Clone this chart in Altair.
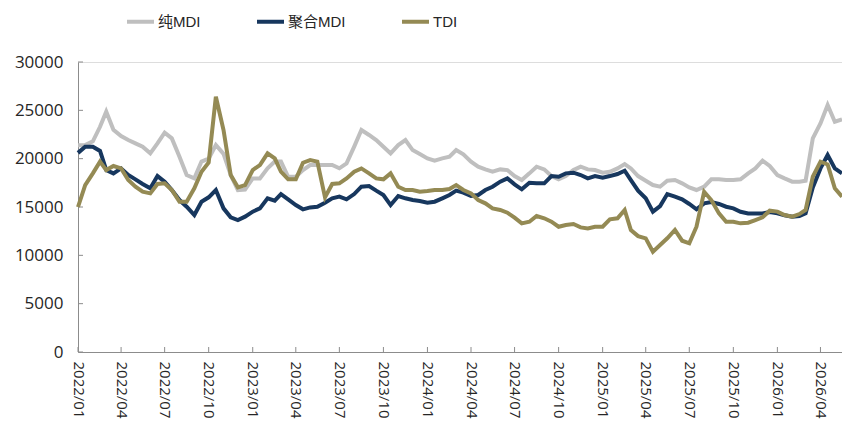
import altair as alt
import pandas as pd

# semi-monthly sample dates (1st and 16th of each month), 2022-01-01 .. 2026-05-16
dates = []
for k in range(106):
    mo = k // 2
    y = 2022 + mo // 12
    m = mo % 12 + 1
    d = 1 if k % 2 == 0 else 16
    dates.append(f"{y}-{m:02d}-{d:02d}")

pure_mdi = [
    21400, 21400, 21800, 23300, 24860, 23000, 22340, 21930, 21580, 21240,
    20550, 21580, 22690, 22100, 20200, 18300, 17960, 19700, 20000, 21410,
    20500, 18300, 16750, 16800, 17960, 17960, 19000, 19700, 19700, 18130,
    18130, 18820, 19340, 19340, 19340, 19340, 19000, 19510, 21240, 22960,
    22450, 21930, 21240, 20550, 21410, 21930, 20890, 20480, 20030, 19790,
    20030, 20200, 20890, 20450, 19690, 19170, 18890, 18650, 18890, 18820,
    18200, 17790, 18480, 19170, 18890, 18200, 17860, 18200, 18820, 19170,
    18890, 18820, 18550, 18650, 18990, 19440, 18990, 18200, 17720, 17270,
    17100, 17720, 17790, 17450, 17030, 16760, 17100, 17860, 17860, 17790,
    17790, 17860, 18480, 18990, 19790, 19240, 18310, 17960, 17620, 17620,
    17720, 22100, 23650, 25550, 23820, 24070,
]

polymeric_mdi = [
    20600, 21240, 21240, 20800, 18820, 18480, 18990, 18310, 17860, 17380,
    16930, 18200, 17620, 16760, 15720, 15030, 14170, 15550, 16000, 16760,
    14860, 13930, 13650, 14000, 14520, 14860, 15900, 15650, 16340, 15790,
    15200, 14760, 14960, 15030, 15450, 15900, 16070, 15790, 16340, 17100,
    17170, 16690, 16240, 15200, 16140, 15900, 15720, 15620, 15450, 15550,
    15900, 16240, 16690, 16480, 16140, 16240, 16760, 17100, 17620, 17960,
    17340, 16830, 17510, 17450, 17450, 18200, 18130, 18480, 18550, 18310,
    17960, 18200, 18030, 18200, 18410, 18750, 17790, 16690, 15900, 14520,
    15100, 16340, 16070, 15790, 15310, 14760, 15380, 15520, 15310, 15030,
    14860, 14510, 14340, 14340, 14340, 14480, 14340, 14140, 14000, 14070,
    14340, 17030, 18990, 20380, 18990, 18480,
]

tdi = [
    15000, 17270, 18480, 19690, 18820, 19240, 18990, 17790, 17100, 16580,
    16410, 17380, 17450, 16760, 15550, 15550, 16930, 18650, 19600, 26410,
    22960, 18310, 17030, 17270, 18820, 19340, 20550, 20030, 18650, 17860,
    17860, 19580, 19860, 19690, 16000, 17380, 17450, 17960, 18650, 18990,
    18480, 17960, 17860, 18480, 17100, 16760, 16760, 16580, 16650, 16760,
    16760, 16860, 17270, 16760, 16410, 15720, 15380, 14860, 14690, 14410,
    13890, 13310, 13480, 14070, 13830, 13480, 12960, 13140, 13240, 12890,
    12790, 12960, 12960, 13720, 13830, 14690, 12620, 11990, 11760, 10380,
    11070, 11760, 12620, 11510, 11240, 12960, 16580, 15720, 14340, 13480,
    13480, 13310, 13380, 13650, 13930, 14620, 14520, 14170, 14000, 14270,
    14690, 18130, 19690, 19400, 16930, 16070,
]

series_names = ["纯MDI", "聚合MDI", "TDI"]
series_colors = ["#BFBFBF", "#17375E", "#948A54"]

x_tick_dates = [f"{y}-{m:02d}-01" for y in range(2022, 2027) for m in (1, 4, 7, 10)][:18]
y_tick_values = [0, 5000, 10000, 15000, 20000, 25000, 30000]


def ms(s):
    return int(pd.Timestamp(s).timestamp() * 1000)


domain_x = [ms("2022-01-01"), ms("2026-05-16")]

rows = []
for name, vals in zip(series_names, [pure_mdi, polymeric_mdi, tdi]):
    for d, v in zip(dates, vals):
        rows.append({"date": d, "value": v, "series": name})
df = pd.DataFrame(rows)

FONT = "Open Sans"
LEGEND_FONT = "Liberation Sans Narrow, Liberation Sans, Noto Sans CJK SC"

x_enc = alt.X(
    "date:T",
    scale=alt.Scale(domain=domain_x, nice=False),
    axis=alt.Axis(
        values=[ms(s) for s in x_tick_dates],
        labelExpr="utcFormat(datum.value, '%Y/%m')",
        labelAngle=90,
        labelPadding=9,
        ticks=False,
        grid=False,
        title=None,
        labelFontSize=15,
        labelFont=FONT,
        labelColor="#262626",
        domainColor="#8C8C8C",
        labelOverlap=False,
    ),
)
y_enc = alt.Y(
    "value:Q",
    scale=alt.Scale(domain=[0, 30000], nice=False),
    axis=alt.Axis(
        values=y_tick_values,
        format="d",
        ticks=False,
        grid=False,
        title=None,
        labelPadding=15,
        labelFontSize=17,
        labelFont=FONT,
        labelColor="#262626",
        domainColor="#8C8C8C",
    ),
)
color_enc = alt.Color(
    "series:N",
    scale=alt.Scale(domain=series_names, range=series_colors),
    legend=alt.Legend(
        title=None,
        orient="none",
        direction="horizontal",
        legendX=47,
        legendY=-56,
        symbolType="stroke",
        symbolStrokeWidth=4,
        symbolSize=729,
        labelFontSize=15,
        labelFont=LEGEND_FONT,
        labelColor="#262626",
        labelOffset=2,
        columnPadding=48,
    ),
)

layers = []
for name in series_names:
    layers.append(
        alt.Chart(df)
        .transform_filter(alt.datum.series == name)
        .mark_line(strokeWidth=4)
        .encode(x=x_enc, y=y_enc, color=color_enc)
    )

xticks_df = pd.DataFrame({"date": x_tick_dates})
xticks = alt.Chart(xticks_df).mark_rule(color="#8C8C8C", strokeWidth=1).encode(
    x=alt.X("date:T"), y=alt.value(290), y2=alt.value(285)
)
yticks_df = pd.DataFrame({"value": y_tick_values})
yticks = alt.Chart(yticks_df).mark_rule(color="#8C8C8C", strokeWidth=1).encode(
    y=alt.Y("value:Q"), x=alt.value(0), x2=alt.value(5)
)

chart = (
    alt.layer(xticks, yticks, *layers)
    .properties(
        width=764,
        height=290,
        padding={"left": 70, "top": 54, "right": 0, "bottom": 68},
        autosize=alt.AutoSizeParams(type="none"),
    )
    .configure_view(stroke=None)
    .configure(background="white")
)

chart.save("out.html", embed_options={"renderer": "svg", "actions": False})
